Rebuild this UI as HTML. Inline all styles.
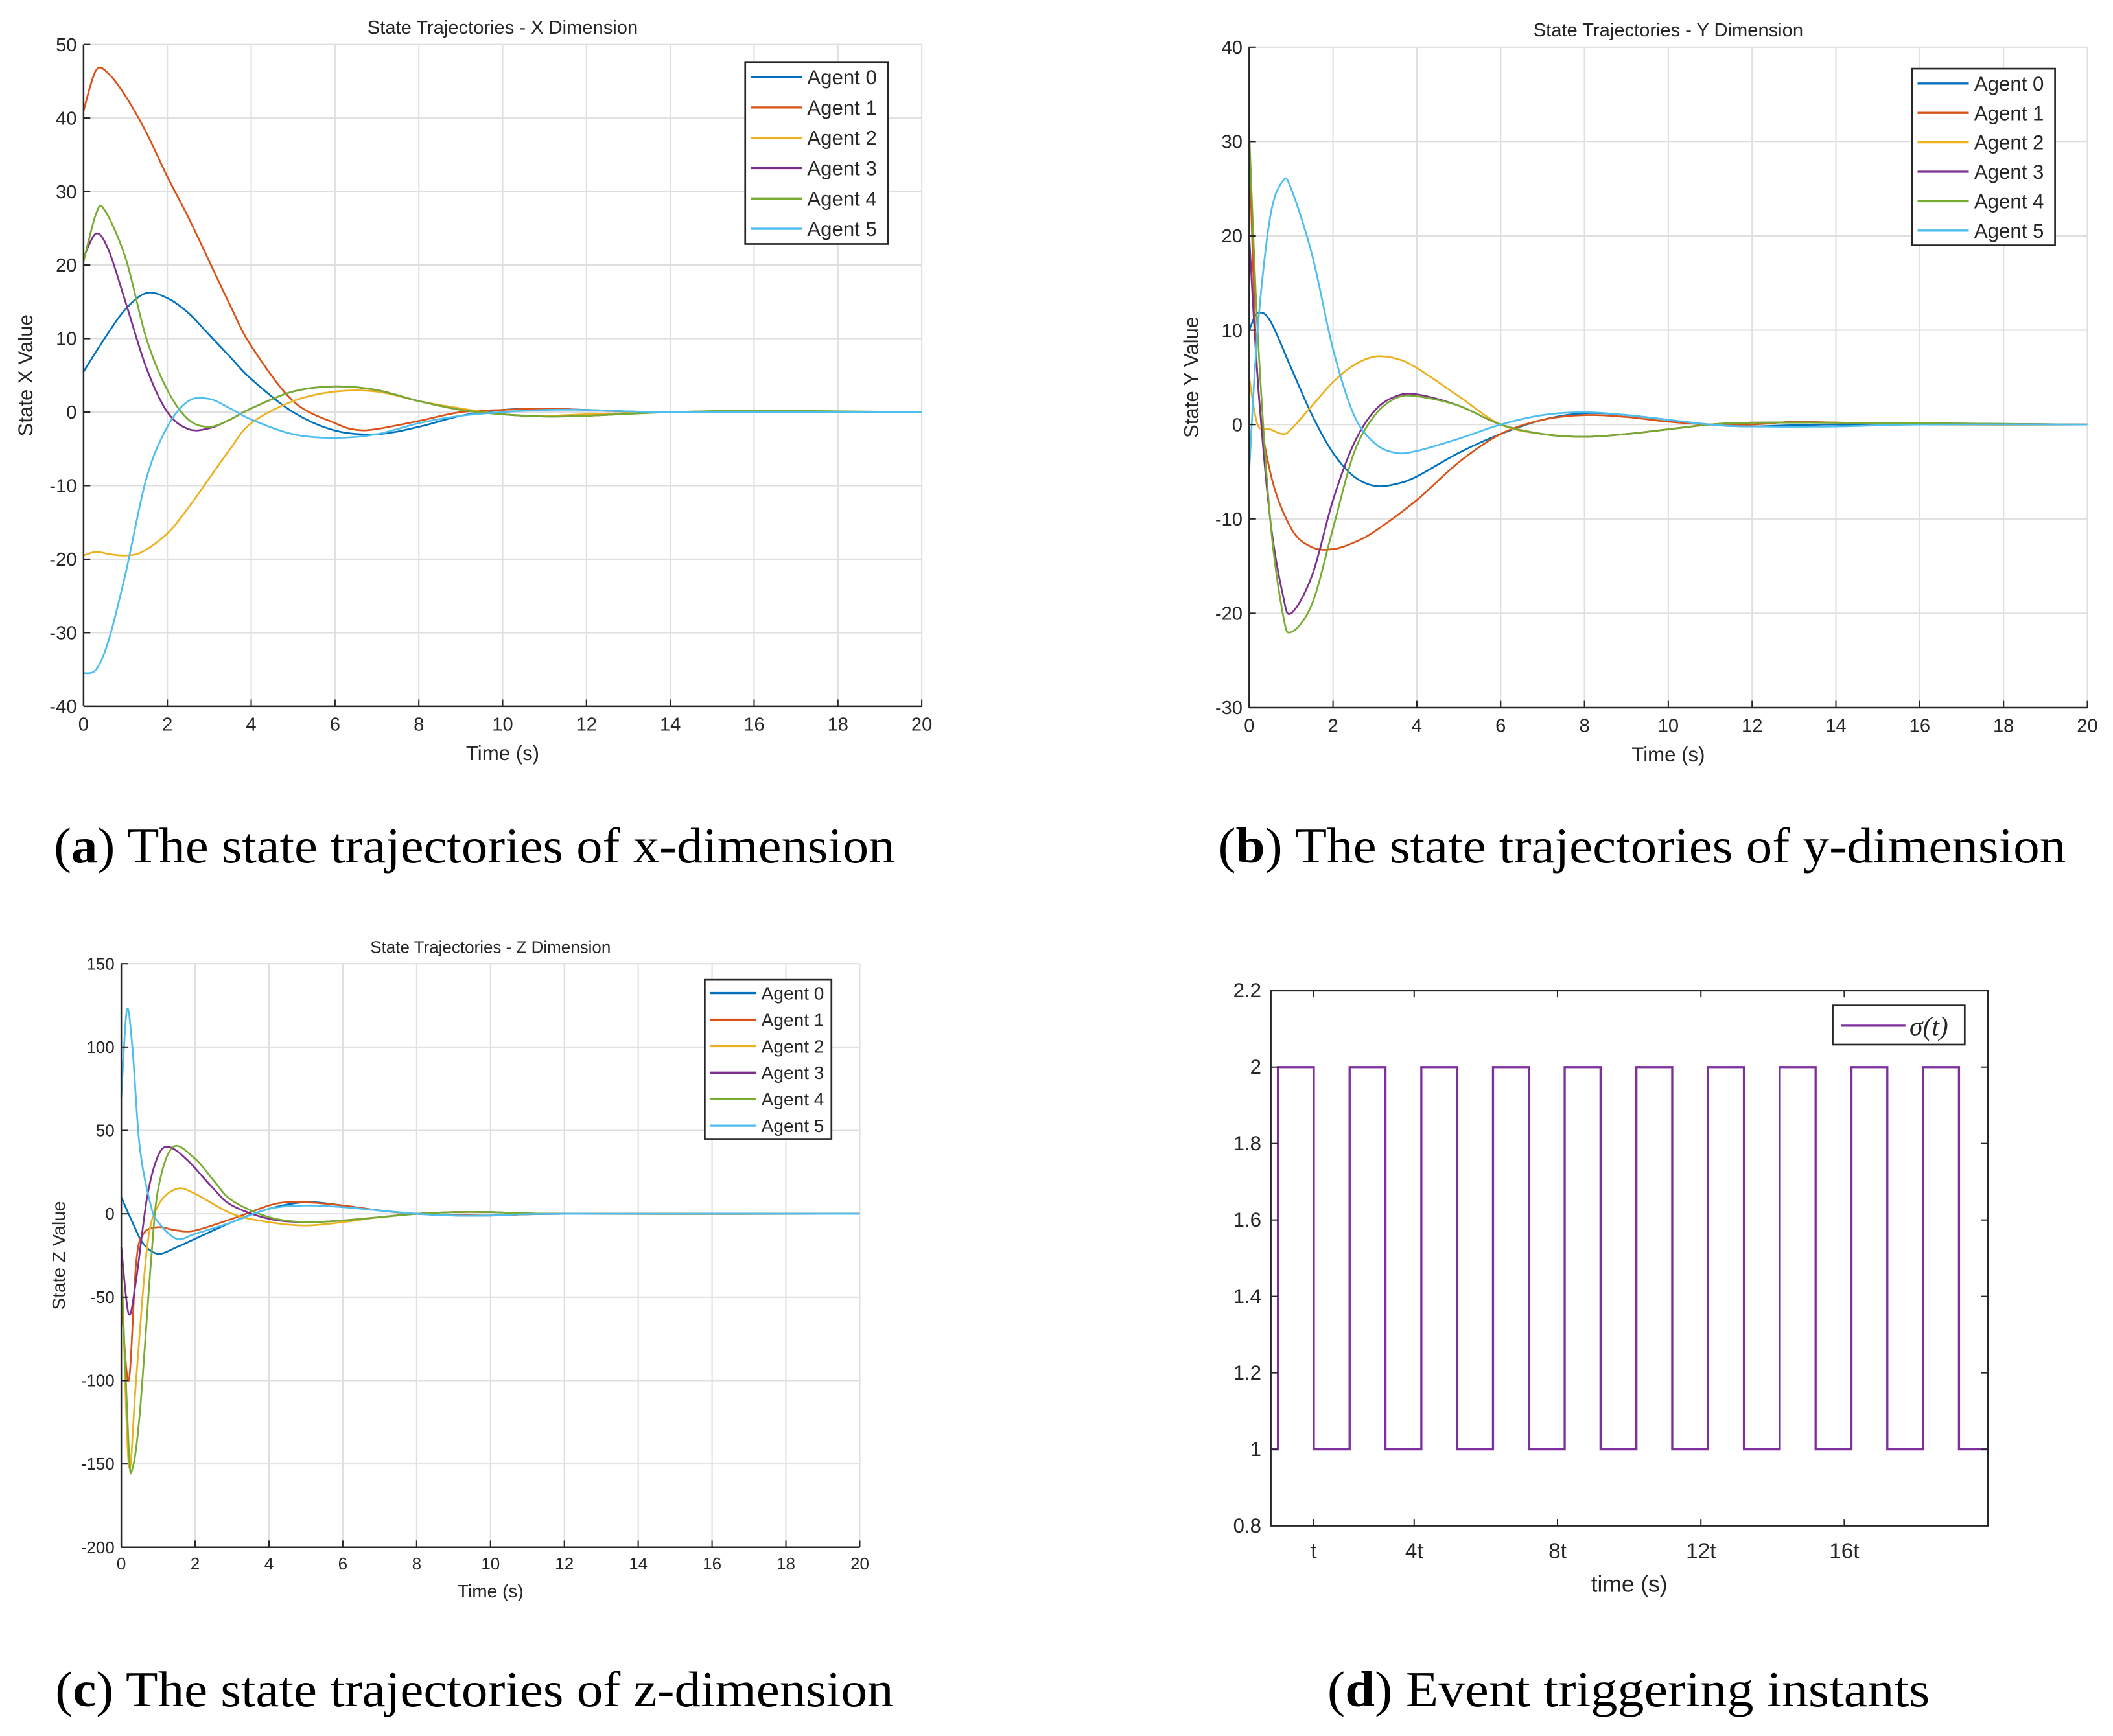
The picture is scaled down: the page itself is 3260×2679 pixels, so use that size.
<!DOCTYPE html>
<html><head><meta charset="utf-8"><style>
html,body{margin:0;padding:0;background:#fff;}
svg{display:block;}
text{font-family:"Liberation Sans",sans-serif;fill:#262626;}
.cap{font-family:"Liberation Serif",serif;fill:#000;font-size:37px;}
</style></head><body>
<svg id="fig" width="3260" height="2679" viewBox="0 0 1568 1288" preserveAspectRatio="none" xmlns="http://www.w3.org/2000/svg"></svg>
<script>
const colors=["#0072BD","#D95319","#EDB120","#7E2F8E","#77AC30","#4DBEEE"];
const agentNames=["Agent 0","Agent 1","Agent 2","Agent 3","Agent 4","Agent 5"];
const xTicks=[0,2,4,6,8,10,12,14,16,18,20];
// X dimension [t, value]
const xA0=[[0,5.5],[0.5,10],[1,14],[1.5,16.2],[2,15.5],[2.5,13.5],[3,10.5],[3.5,7.5],[4,4.5],[5,0],[6,-2.5],[7,-3],[8,-2],[9,-0.5],[10,0.3],[11,0.5],[12,0.3],[14,0],[20,0]];
const xA1=[[0,41],[0.3,46.5],[0.6,46],[1,43],[1.5,38],[2,32],[2.5,26.5],[3,20.5],[3.5,14.5],[4,9],[5,1.5],[6,-1.5],[6.5,-2.4],[7,-2.3],[8,-1.2],[9,0],[10,0.3],[11,0.5],[12,0.3],[14,0],[20,0]];
const xA2=[[0,-19.5],[0.3,-19],[0.6,-19.3],[1,-19.5],[1.4,-19],[2,-16.5],[2.5,-13],[3,-9],[3.5,-5],[4,-1.5],[5,1.5],[6,2.8],[7,2.8],[8,1.5],[9,0.5],[10,-0.3],[11,-0.5],[12,-0.3],[14,0],[16,0.2],[18,0],[20,0]];
const xA3=[[0,21],[0.3,24.3],[0.6,22],[1,15],[1.5,6],[2,0],[2.5,-2.3],[3,-2.2],[3.5,-1],[4,0.5],[5,2.8],[6,3.5],[7,3],[8,1.5],[9,0.3],[10,-0.3],[11,-0.6],[12,-0.5],[14,0],[16,0.1],[20,0]];
const xA4=[[0,20.5],[0.3,27],[0.5,27.5],[1,21],[1.5,10],[2,3],[2.5,-1],[3,-2],[3.5,-1],[4,0.5],[5,2.8],[6,3.5],[7,3],[8,1.5],[9,0.3],[10,-0.3],[11,-0.6],[12,-0.5],[14,0],[16,0.2],[20,0]];
const xA5=[[0,-35.5],[0.3,-35],[0.6,-31],[1,-22],[1.5,-9],[2,-2],[2.5,1.5],[3,1.8],[3.5,0.5],[4,-1],[5,-3],[6,-3.5],[7,-3],[8,-1.5],[9,-0.5],[10,0],[11,0.3],[12,0.3],[14,0],[20,0]];
// Y dimension
const yA0=[[0,10],[0.2,11.8],[0.5,11],[1,6],[1.5,1],[2,-3],[2.5,-5.5],[3,-6.5],[3.5,-6.3],[4,-5.5],[5,-3],[6,-1],[7,0.5],[8,1.2],[9,1],[10,0.5],[11,0],[12,-0.2],[14,0],[20,0]];
const yA1=[[0,30],[0.2,5],[0.5,-5],[1,-11],[1.5,-13],[2,-13.2],[2.5,-12.5],[3,-11.3],[4,-8],[5,-4],[6,-1],[7,0.5],[8,1],[9,0.8],[10,0.3],[11,0],[12,0],[13,0.3],[14,0.2],[16,0],[20,0]];
const yA2=[[0,5],[0.2,0],[0.5,-0.5],[0.8,-1],[1,-0.5],[1.5,2],[2,4.5],[2.5,6.3],[3,7.2],[3.5,7],[4,6],[5,3],[6,0],[7,-1],[8,-1.3],[9,-1],[10,-0.5],[11,0],[12,0.2],[14,0.2],[16,0],[20,0]];
const yA3=[[0,20],[0.2,5],[0.5,-10],[0.8,-18],[1,-20],[1.5,-16],[2,-8],[2.5,-2],[3,1.5],[3.5,3],[4,3.2],[5,2],[6,0],[7,-1],[8,-1.3],[9,-1],[10,-0.5],[11,0],[12,0.2],[14,0.2],[20,0]];
const yA4=[[0,31],[0.2,10],[0.5,-10],[0.8,-20],[1,-22],[1.5,-19],[2,-11],[2.5,-3],[3,1],[3.5,2.8],[4,3],[5,2],[6,0],[7,-1],[8,-1.3],[9,-1],[10,-0.5],[11,0],[12,0.2],[14,0.2],[20,0]];
const yA5=[[0,-5],[0.2,10],[0.5,22],[0.8,25.8],[1,25],[1.5,18],[2,8],[2.5,1],[3,-2],[3.5,-3],[4,-2.8],[5,-1.5],[6,0],[7,1],[8,1.3],[9,1],[10,0.5],[11,0],[12,-0.2],[14,-0.2],[16,0],[20,0]];
// Z dimension
const zA0=[[0,10],[0.3,-5],[0.6,-18],[1,-24],[1.5,-20],[2,-15],[3,-5],[4,3],[5,7],[6,5],[7,2],[8,0],[9,-1],[10,-1],[12,0],[20,0]];
const zA1=[[0,-50],[0.2,-100],[0.4,-30],[0.6,-12],[1,-8],[1.5,-10],[2,-10],[3,-3],[4,5],[4.5,7],[5,7],[6,5],[7,2],[8,0],[10,-1],[12,0],[20,0]];
const zA2=[[0,-20],[0.2,-150],[0.4,-100],[0.7,-20],[1,5],[1.5,15],[2,12],[3,0],[4,-5],[5,-7],[6,-5],[7,-2],[8,0],[9,1],[10,1],[12,0],[20,0]];
const zA3=[[0,-20],[0.2,-60],[0.4,-40],[0.7,10],[1,35],[1.3,40],[1.8,32],[2.5,15],[3,5],[4,-3],[5,-5],[6,-4],[7,-2],[8,0],[9,1],[10,1],[12,0],[20,0]];
const zA4=[[0,-30],[0.2,-140],[0.3,-153],[0.5,-120],[0.8,-30],[1,15],[1.4,40],[2,33],[2.5,20],[3,8],[4,-2],[5,-5],[6,-4],[7,-2],[8,0],[9,1],[10,1],[12,0],[20,0]];
const zA5=[[0,70],[0.15,122],[0.3,100],[0.5,40],[0.8,5],[1,-5],[1.5,-15],[2,-12],[3,-5],[4,3],[5,5],[6,4],[7,2],[8,0],[9,-1],[10,-1],[12,0],[20,0]];
// event triggering (d)
const sigmaUp=[0.2,2.2,4.2,6.2,8.2,10.2,12.2,14.2,16.2,18.2];
const sigmaDown=[1.2,3.2,5.2,7.2,9.2,11.2,13.2,15.2,17.2,19.2];
const sigmaHigh=2, sigmaLow=1;
const dTickVals=[1.2,4,8,12,16];
const dTickLabels=["t","4t","8t","12t","16t"];
const dYTicks=[0.8,1,1.2,1.4,1.6,1.8,2,2.2];

const NS="http://www.w3.org/2000/svg";
const svg=document.getElementById('fig');
function el(tag,attrs,parent,txt){const e=document.createElementNS(NS,tag);for(const k in attrs)e.setAttribute(k,attrs[k]);if(txt!==undefined)e.textContent=txt;(parent||svg).appendChild(e);return e;}
function smoothPath(pts){let d="M"+pts[0][0].toFixed(2)+","+pts[0][1].toFixed(2);
 for(let i=0;i<pts.length-1;i++){const p0=pts[Math.max(0,i-1)],p1=pts[i],p2=pts[i+1],p3=pts[Math.min(pts.length-1,i+2)];
 const c1x=p1[0]+(p2[0]-p0[0])/6,c1y=p1[1]+(p2[1]-p0[1])/6,c2x=p2[0]-(p3[0]-p1[0])/6,c2y=p2[1]-(p3[1]-p1[1])/6;
 d+=" C"+c1x.toFixed(2)+","+c1y.toFixed(2)+" "+c2x.toFixed(2)+","+c2y.toFixed(2)+" "+p2[0].toFixed(2)+","+p2[1].toFixed(2);}return d;}

function chart(cfg){
 const g=el('g',{});
 
 
 const {x0,x1,y0,y1,ymin,ymax,fs}=cfg;
 const sx=v=>x0+(v-0)/20*(x1-x0), sy=v=>y1-(v-ymin)/(ymax-ymin)*(y1-y0);
 const yt=[];for(let v=ymin;v<=ymax+1e-9;v+=cfg.ystep)yt.push(v);
 for(const v of xTicks){const l=el('line',{x1:sx(v),x2:sx(v),y1:y0,y2:y1,stroke:'#dfdfdf','stroke-width':1},g);}
 for(const v of yt){const l=el('line',{x1:x0,x2:x1,y1:sy(v),y2:sy(v),stroke:'#dfdfdf','stroke-width':1},g);}
 cfg.series.forEach((s,i)=>{const p=el('path',{d:smoothPath(s.map(q=>[sx(q[0]),sy(q[1])])),fill:'none',stroke:colors[i],'stroke-width':1.3},g);
  });
 el('line',{x1:x0,x2:x1,y1:y1,y2:y1,stroke:'#262626','stroke-width':1.2},g);
 el('line',{x1:x0,x2:x0,y1:y0,y2:y1,stroke:'#262626','stroke-width':1.2},g);
 for(const v of xTicks){el('line',{x1:sx(v),x2:sx(v),y1:y1,y2:y1-5,stroke:'#262626'},g);
  const t=el('text',{x:sx(v),y:y1+fs+4,'font-size':fs,'text-anchor':'middle'},g,String(v));}
 for(const v of yt){el('line',{x1:x0,x2:x0+5,y1:sy(v),y2:sy(v),stroke:'#262626'},g);
  const t=el('text',{x:x0-5,y:sy(v)+fs*0.35,'font-size':fs,'text-anchor':'end'},g,String(v));}
 const ti=el('text',{x:(x0+x1)/2,y:y0-8,'font-size':fs,'text-anchor':'middle'},g,cfg.title);
 const xl=el('text',{x:(x0+x1)/2,y:y1+fs*2+12,'font-size':fs+1,'text-anchor':'middle'},g,'Time (s)');
 const yc=(y0+y1)/2;const yl=el('text',{x:cfg.ylx,y:yc,'font-size':fs+1,'text-anchor':'middle',transform:`rotate(-90 ${cfg.ylx} ${yc})`},g,cfg.ylabel);
 const L=cfg.leg;const lg=el('g',{},g);
 el('rect',{x:L.x,y:L.y,width:L.w,height:L.h,fill:'#fff',stroke:'#262626','stroke-width':1.3},lg);
 const rh=L.h/6;
 agentNames.forEach((n,i)=>{const cy=L.y+rh*(i+0.5);
  el('line',{x1:L.x+4,x2:L.x+4+L.ll,y1:cy,y2:cy,stroke:colors[i],'stroke-width':1.6},lg);
  const t=el('text',{x:L.x+L.ll+8,y:cy+fs*0.38,'font-size':fs+1},lg,n);});
}
chart({name:'chart-x-dimension',x0:62,x1:684,y0:33,y1:524,ymin:-40,ymax:50,ystep:10,fs:14,title:'State Trajectories - X Dimension',ylabel:'State X Value',ylx:24,
 series:[xA0,xA1,xA2,xA3,xA4,xA5],leg:{x:553,y:46,w:106,h:135,ll:38}});
chart({name:'chart-y-dimension',x0:927,x1:1549,y0:35,y1:525,ymin:-30,ymax:40,ystep:10,fs:14,title:'State Trajectories - Y Dimension',ylabel:'State Y Value',ylx:889,
 series:[yA0,yA1,yA2,yA3,yA4,yA5],leg:{x:1419,y:51,w:106,h:131,ll:38}});
chart({name:'chart-z-dimension',x0:90,x1:638,y0:715,y1:1148,ymin:-200,ymax:150,ystep:50,fs:12.5,title:'State Trajectories - Z Dimension',ylabel:'State Z Value',ylx:48,
 series:[zA0,zA1,zA2,zA3,zA4,zA5],leg:{x:523,y:727,w:94,h:118,ll:34}});

// chart d
(function(){
 const g=el('g',{});
 
 
 const x0=943,x1=1475,y0=735,y1=1132,ymin=0.8,ymax=2.2,fs=15;
 const sx=v=>x0+v/20*(x1-x0), sy=v=>y1-(v-ymin)/(ymax-ymin)*(y1-y0);
 let d="M"+x0+","+sy(sigmaLow);
 for(let i=0;i<sigmaUp.length;i++){d+=" H"+sx(sigmaUp[i])+" V"+sy(sigmaHigh)+" H"+sx(sigmaDown[i])+" V"+sy(sigmaLow);}
 d+=" H"+x1;
 const p=el('path',{d:d,fill:'none',stroke:'#7E2F9E','stroke-width':1.6},g);
 
 el('rect',{x:x0,y:y0,width:x1-x0,height:y1-y0,fill:'none',stroke:'#262626','stroke-width':1.3},g);
 dYTicks.forEach(v=>{el('line',{x1:x0,x2:x0+5,y1:sy(v),y2:sy(v),stroke:'#262626'},g);el('line',{x1:x1,x2:x1-5,y1:sy(v),y2:sy(v),stroke:'#262626'},g);
  const t=el('text',{x:x0-7,y:sy(v)+5,'font-size':fs,'text-anchor':'end'},g,String(v));});
 dTickVals.forEach((v,i)=>{el('line',{x1:sx(v),x2:sx(v),y1:y1,y2:y1-5,stroke:'#262626'},g);el('line',{x1:sx(v),x2:sx(v),y1:y0,y2:y0+5,stroke:'#262626'},g);
  const t=el('text',{x:sx(v),y:y1+24,'font-size':fs+1,'text-anchor':'middle'},g,dTickLabels[i]);});
 const xl=el('text',{x:(x0+x1)/2,y:y1+49,'font-size':fs+2,'text-anchor':'middle'},g,'time (s)');
 const lg=el('g',{},g);
 el('rect',{x:1360,y:746,width:98,height:29,fill:'#fff',stroke:'#262626','stroke-width':1.3},lg);
 el('line',{x1:1366,x2:1414,y1:761,y2:761,stroke:'#7E2F9E','stroke-width':1.6},lg);
 const t=el('text',{x:1417,y:768,'font-size':20,style:'font-family:"Liberation Serif",serif;font-style:italic'},lg,'σ(t)');
})();
// captions [left, baseline, letter, text, width]
const caps=[[40,640,'a','The state trajectories of x-dimension',624],[904,640,'b','The state trajectories of y-dimension',629],[41,1266,'c','The state trajectories of z-dimension',622],[985,1266,'d','Event triggering instants',447]];
caps.forEach(c=>{const t=el('text',{x:c[0],y:c[1],class:'cap',textLength:c[4],lengthAdjust:'spacingAndGlyphs'});
 
 
 el('tspan',{},t,'(');el('tspan',{'font-weight':'bold'},t,c[2]);el('tspan',{},t,') '+c[3]);});
</script>
</body></html>
